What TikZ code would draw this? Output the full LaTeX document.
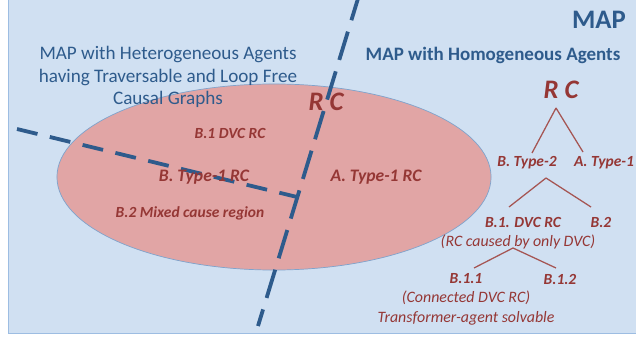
\documentclass[tikz,border=0pt]{standalone}
\usepackage{fontspec}
\setmainfont{Carlito}
\definecolor{mapbg}{HTML}{D0E0F2}
\definecolor{mapedge}{HTML}{9DBDE2}
\definecolor{rcfill}{HTML}{E1A5A5}
\definecolor{rcedge}{HTML}{7FA3CC}
\definecolor{mapblue}{HTML}{2E5B8C}
\definecolor{rcred}{HTML}{953735}
\begin{document}
\begin{tikzpicture}[x=0.025cm,y=-0.025cm]
      \useasboundingbox (0,0) rectangle (636,339);
      \fill[mapbg,draw=mapedge,line width=0.6pt] (8,-5) rectangle (645,333);
      \fill[rcfill,draw=rcedge,line width=0.5pt] (274,177) ellipse [x radius=5.425cm, y radius=2.325cm];
      \begin{scope}[every path/.style={draw=mapblue,line width=2.7pt}]
        \coordinate (vtop) at (360,-8);
        \coordinate (vbot) at (258,326);
        \coordinate (hleft) at (17,129);
        \coordinate (hend) at (297,197);
        \path[dash pattern=on 21pt off 8.5pt] (vtop) -- (vbot);
        \path[dash pattern=on 15pt off 9pt] (hleft) -- (hend);
      \end{scope}
      \begin{scope}[every node/.style={text=mapblue,inner sep=0pt,align=center}]
        \node[font=\bfseries\fontsize{19}{22}\selectfont] (map) at (599,20) {MAP};
        \node[font=\bfseries\fontsize{13.5}{16}\selectfont] (homo) at (493,55) {MAP with Homogeneous Agents};
        \node[font=\fontsize{13.6}{16}\selectfont] (hetero) at (168,77) {MAP with Heterogeneous Agents\\having Traversable and Loop Free\\Causal Graphs};
      \end{scope}
      \begin{scope}[every node/.style={text=rcred,inner sep=0pt,font=\bfseries\itshape\fontsize{11}{13}\selectfont}]
        \node[font=\bfseries\itshape\fontsize{19}{22}\selectfont] (rc) at (326,102) {R C};
        \node (b1) at (230,133) {B.1 DVC RC};
        \node[font=\bfseries\itshape\fontsize{12.5}{14}\selectfont] (btype1) at (204,177) {B. Type-1 RC};
        \node (b2) at (190,213) {B.2 Mixed cause region};
        \node[font=\bfseries\itshape\fontsize{12.5}{14}\selectfont] (atype1) at (376,177) {A. Type-1 RC};
        \node[font=\bfseries\itshape\fontsize{19}{22}\selectfont] (root) at (561,90) {R C};
        \node (type2) at (527,163) {B. Type-2};
        \node (type1) at (604,163) {A. Type-1};
        \node (dvc) at (523,222) {B.1. DVC RC};
        \node (mixed) at (601,222) {B.2};
        \node[font=\itshape\fontsize{11.3}{13}\selectfont] (dvcnote) at (518,242) {(RC caused by only DVC)};
        \node (b11) at (466,279) {B.1.1};
        \node (b12) at (560,279) {B.1.2};
        \node[font=\itshape\fontsize{11.3}{13}\selectfont] (b11note) at (466,298) {(Connected DVC RC)};
        \node[font=\itshape\fontsize{11.3}{13}\selectfont] (b11solve) at (466,318) {Transformer-agent solvable};
      \end{scope}
      \begin{scope}[every path/.style={draw=rcred!85,line width=0.9pt}]
        \coordinate (rootfork) at (556,108);
        \coordinate (type2top) at (532,153);
        \coordinate (type1top) at (583,152);
        \coordinate (type2fork) at (546,178);
        \coordinate (dvctop) at (509,207);
        \coordinate (mixedtop) at (591,207);
        \coordinate (dvcfork) at (513,248);
        \coordinate (b11top) at (474,268);
        \coordinate (b12top) at (556,268);
        \path (rootfork) -- (type2top);
        \path (rootfork) -- (type1top);
        \path (type2fork) -- (dvctop);
        \path (type2fork) -- (mixedtop);
        \path (dvcfork) -- (b11top);
        \path (dvcfork) -- (b12top);
      \end{scope}
    \end{tikzpicture}
\end{document}
